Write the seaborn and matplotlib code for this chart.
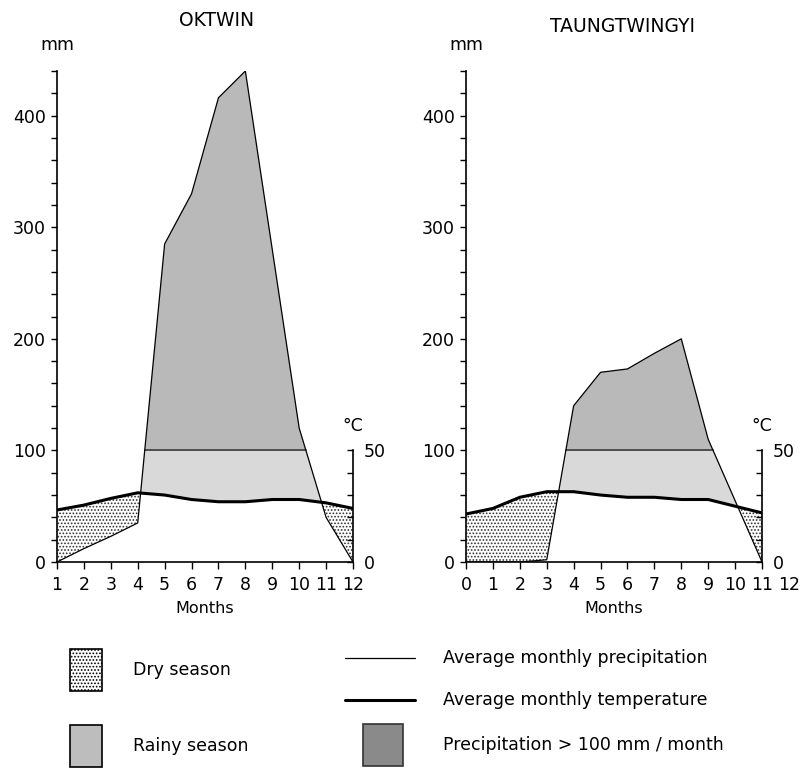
import numpy as np
import pandas as pd
import seaborn as sns
import matplotlib.pyplot as plt
from matplotlib.patches import Rectangle
from matplotlib.lines import Line2D

sns.set_theme(style="ticks")
plt.rcParams['font.family'] = ['DejaVu Sans']
plt.rcParams['hatch.linewidth'] = 0.8
plt.rcParams['hatch.color'] = '#333333'
for k in ['text.color', 'axes.labelcolor', 'xtick.color', 'ytick.color',
          'axes.edgecolor']:
    plt.rcParams[k] = 'black'

# OKTWIN (months 1..12)
okt_months = [1, 2, 3, 4, 5, 6, 7, 8, 9, 10, 11, 12]
okt_precip = [0, 12, 23, 35, 285, 330, 416, 440, 280, 120, 40, 0]
okt_temp = [23.3, 25.5, 28.5, 31, 30, 28, 27, 27, 28, 28, 26.5, 24]

# TAUNGTWINGYI (months 0..11)
tau_months = [0, 1, 2, 3, 4, 5, 6, 7, 8, 9, 10, 11]
tau_precip = [0, 0, 0, 2, 140, 170, 173, 187, 200, 110, 55, 0]
tau_temp = [21.5, 24, 29, 31.5, 31.5, 30, 29, 29, 28, 28, 25, 22]

c_light = '#d9d9d9'
c_dark = '#b9b9b9'
fs = 12.5

fig = plt.figure(figsize=(8.01, 7.69), dpi=100)


def climate(ax, months, precip, temp, xlim):
    df = pd.DataFrame({'m': months, 'p': precip, 't2': np.array(temp) * 2})
    x = df['m'].values
    p = df['p'].values
    t2 = df['t2'].values
    # rainy season
    ax.fill_between(x, t2, p, where=p > t2, interpolate=True,
                    facecolor=c_light, edgecolor='none', zorder=1)
    # precipitation > 100
    ax.fill_between(x, 100, p, where=p > 100, interpolate=True,
                    facecolor=c_dark, edgecolor='none', zorder=2)
    wet = np.where(p > 100)[0]
    i0, i1 = wet[0], wet[-1]
    xa = x[i0 - 1] + (100 - p[i0 - 1]) / (p[i0] - p[i0 - 1])
    xb = x[i1] + (100 - p[i1]) / (p[i1 + 1] - p[i1])
    ax.plot([xa, xb], [100, 100], color='#444444', lw=1.3, zorder=3)
    # dry season
    ax.fill_between(x, p, t2, where=t2 > p, interpolate=True,
                    facecolor='white', edgecolor='#333333', hatch='.....',
                    lw=0, zorder=2)
    sns.lineplot(data=df, x='m', y='p', ax=ax, color='black', lw=0.9, zorder=4)
    sns.lineplot(data=df, x='m', y='t2', ax=ax, color='black', lw=2.2, zorder=5)

    ax.set_xlim(*xlim)
    ax.set_ylim(0, 440)
    ax.set_xticks(months)
    ax.set_yticks([0, 100, 200, 300, 400])
    ax.set_yticks(np.arange(0, 441, 20), minor=True)
    ax.tick_params(axis='y', which='both', direction='out', length=4,
                   width=1, labelsize=fs, pad=4)
    ax.tick_params(axis='x', direction='out', length=5, width=1,
                   labelsize=fs, pad=5)
    for s in ['top', 'right']:
        ax.spines[s].set_visible(False)
    for s in ['left', 'bottom']:
        ax.spines[s].set_linewidth(1.2)
    ax.set_xlabel('Months', fontsize=fs - 1, labelpad=5)
    ax.set_ylabel('')
    ax.text(0.0, 1.035, 'mm', transform=ax.transAxes, ha='center',
            va='bottom', fontsize=fs)

    tax = ax.twinx()
    tax.set_ylim(0, 220)
    tax.spines['right'].set_bounds(0, 50)
    tax.spines['right'].set_linewidth(1.2)
    for s in ['top', 'left', 'bottom']:
        tax.spines[s].set_visible(False)
    tax.set_yticks(np.arange(0, 51, 10))
    tax.set_yticklabels(['0', '', '', '', '', '50'])
    tax.tick_params(axis='y', direction='in', length=4, width=1,
                    labelsize=fs, pad=8)
    tax.text(1.0, 61, '°C', transform=tax.get_yaxis_transform(),
             ha='center', va='center', fontsize=fs)
    return ax


ax1 = fig.add_axes([57 / 801, 207 / 769, 296 / 801, 491 / 769])
climate(ax1, okt_months, okt_precip, okt_temp, (1, 12))

ax2 = fig.add_axes([466 / 801, 207 / 769, 296 / 801, 491 / 769])
climate(ax2, tau_months, tau_precip, tau_temp, (0, 11))
ax2.annotate('12', xy=(12, 0), xycoords='data', xytext=(0, -10),
             textcoords='offset points', ha='center', va='top', fontsize=fs,
             annotation_clip=False)


def px(x, y):
    return x / 801, 1 - y / 769


fig.text(*px(217, 21), 'OKTWIN', ha='center', va='center', fontsize=fs + 1)
fig.text(*px(623, 26), 'TAUNGTWINGYI', ha='center', va='center', fontsize=fs + 1)

# legend
fig.patches.append(Rectangle(px(70, 691), 32 / 801, 42 / 769,
                             transform=fig.transFigure, facecolor='white',
                             edgecolor='black', hatch='.....', lw=1.2))
fig.patches.append(Rectangle(px(70, 767), 32 / 801, 42 / 769,
                             transform=fig.transFigure, facecolor='#bdbdbd',
                             edgecolor='black', lw=1.2))
fig.patches.append(Rectangle(px(363, 766), 40 / 801, 42 / 769,
                             transform=fig.transFigure, facecolor='#8a8a8a',
                             edgecolor='#333333', lw=1.2))
fig.lines.append(Line2D([345 / 801, 415 / 801], [1 - 658 / 769] * 2,
                        transform=fig.transFigure, color='black', lw=0.9))
fig.lines.append(Line2D([345 / 801, 415 / 801], [1 - 700 / 769] * 2,
                        transform=fig.transFigure, color='black', lw=2.2))
fig.text(*px(133, 670), 'Dry season', va='center', fontsize=fs)
fig.text(*px(133, 746), 'Rainy season', va='center', fontsize=fs)
fig.text(*px(443, 658), 'Average monthly precipitation', va='center', fontsize=fs)
fig.text(*px(443, 700), 'Average monthly temperature', va='center', fontsize=fs)
fig.text(*px(443, 745), 'Precipitation > 100 mm / month', va='center', fontsize=fs)

fig.savefig('out.png', dpi=100)
